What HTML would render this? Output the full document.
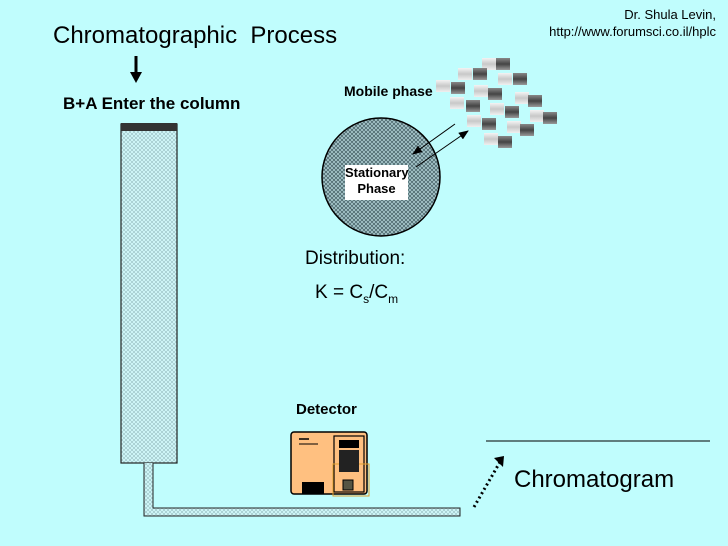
<!DOCTYPE html>
<html><head><style>
body{margin:0;width:728px;height:546px;overflow:hidden;background:#c0fdfd;font-family:"Liberation Sans",sans-serif;position:relative}
.t{position:absolute;white-space:nowrap;color:#000}
.l,.d{position:absolute;width:14px;height:12px}
.l{background:linear-gradient(#f4f4f4,#c8c8c8,#f0f0f0)}
.d{background:linear-gradient(#888,#444,#999)}
</style></head><body>
<svg width="728" height="546" style="position:absolute;left:0;top:0">
<defs>
<pattern id="p" width="4" height="4" patternUnits="userSpaceOnUse"><rect width="4" height="4" fill="#cdf4f6"/><path d="M0 2L2 0L4 2L2 4Z" fill="none" stroke="#8ab0b4" stroke-width="0.5"/></pattern>
<pattern id="q" width="4" height="4" patternUnits="userSpaceOnUse"><rect width="4" height="4" fill="#a8c8cc"/><path d="M0 2L2 0L4 2L2 4Z" fill="none" stroke="#405a60" stroke-width="0.7"/></pattern>
<marker id="a" markerWidth="10" markerHeight="8" refX="9" refY="4" orient="auto" markerUnits="userSpaceOnUse"><path d="M0 0L10 4L0 8Z" fill="#000"/></marker>
</defs>
<rect x="121" y="124" width="56" height="339" fill="url(#p)" stroke="#222" stroke-width="1.2"/>
<rect x="121" y="123" width="56" height="8" fill="#333"/>
<path d="M144 463V516H460V508H153V463" fill="url(#p)" stroke="#222"/>
<circle cx="381" cy="177" r="59" fill="url(#q)" stroke="#000" stroke-width="1.5"/>
<rect x="345" y="165" width="63" height="35" fill="#fff"/>
<line x1="136" y1="56" x2="136" y2="75" stroke="#000" stroke-width="3"/>
<path d="M130 72L142 72L136 83Z" fill="#000"/>
<line x1="455" y1="124" x2="413" y2="154" stroke="#000" marker-end="url(#a)"/>
<line x1="416" y1="167" x2="468" y2="131" stroke="#000" marker-end="url(#a)"/>
<line x1="486" y1="441" x2="710" y2="441" stroke="#000"/>
<line x1="474" y1="507" x2="500" y2="462" stroke="#000" stroke-width="3" stroke-dasharray="2 3"/>
<path d="M494 458L504 456L503 467Z" fill="#000"/>
<rect x="291" y="432" width="76" height="62" rx="3" fill="#ffc080" stroke="#000" stroke-width="1.5"/>
<rect x="334" y="436" width="30" height="56" fill="none" stroke="#000" stroke-width="1.2"/>
<rect x="333" y="464" width="36" height="32" fill="none" stroke="#e0a030"/>
<rect x="339" y="440" width="20" height="8" fill="#000"/>
<rect x="339" y="450" width="20" height="22" fill="#222"/>
<rect x="343" y="480" width="10" height="10" fill="#554" stroke="#000"/>
<rect x="302" y="482" width="22" height="12" fill="#000"/>
<line x1="299" y1="439" x2="309" y2="439" stroke="#000" stroke-width="1.5"/>
<line x1="299" y1="444" x2="318" y2="444" stroke="#000"/>
</svg>
<div class="l" style="left:482px;top:58px"></div><div class="d" style="left:496px;top:58px"></div>
<div class="l" style="left:458px;top:68px"></div><div class="d" style="left:473px;top:68px"></div>
<div class="l" style="left:498px;top:73px"></div><div class="d" style="left:513px;top:73px"></div>
<div class="l" style="left:436px;top:80px"></div><div class="d" style="left:451px;top:82px"></div>
<div class="l" style="left:474px;top:85px"></div><div class="d" style="left:488px;top:88px"></div>
<div class="l" style="left:515px;top:92px"></div><div class="d" style="left:528px;top:95px"></div>
<div class="l" style="left:450px;top:97px"></div><div class="d" style="left:466px;top:100px"></div>
<div class="l" style="left:490px;top:103px"></div><div class="d" style="left:505px;top:106px"></div>
<div class="l" style="left:530px;top:110px"></div><div class="d" style="left:543px;top:112px"></div>
<div class="l" style="left:467px;top:115px"></div><div class="d" style="left:482px;top:118px"></div>
<div class="l" style="left:507px;top:121px"></div><div class="d" style="left:520px;top:124px"></div>
<div class="l" style="left:484px;top:133px"></div><div class="d" style="left:498px;top:136px"></div>
<div class="t" style="left:53px;top:22px;font-size:24px">Chromatographic&nbsp; Process</div>
<div class="t" style="right:12px;top:6px;font-size:13px;text-align:right;line-height:17px">Dr. Shula Levin,<br>http://www.forumsci.co.il/hplc</div>
<div class="t" style="left:63px;top:94px;font-size:17px;font-weight:bold">B+A Enter the column</div>
<div class="t" style="left:344px;top:83px;font-size:14px;font-weight:bold">Mobile phase</div>
<div class="t" style="left:345px;top:165px;width:63px;text-align:center;font-size:13px;font-weight:bold;line-height:16px">Stationary<br>Phase</div>
<div class="t" style="left:305px;top:248px;font-size:19px">Distribution:</div>
<div class="t" style="left:315px;top:282px;font-size:19px">K = C<sub style="font-size:12px">s</sub>/C<sub style="font-size:12px">m</sub></div>
<div class="t" style="left:296px;top:401px;font-size:15px;font-weight:bold">Detector</div>
<div class="t" style="left:514px;top:466px;font-size:24px">Chromatogram</div>
</body></html>
